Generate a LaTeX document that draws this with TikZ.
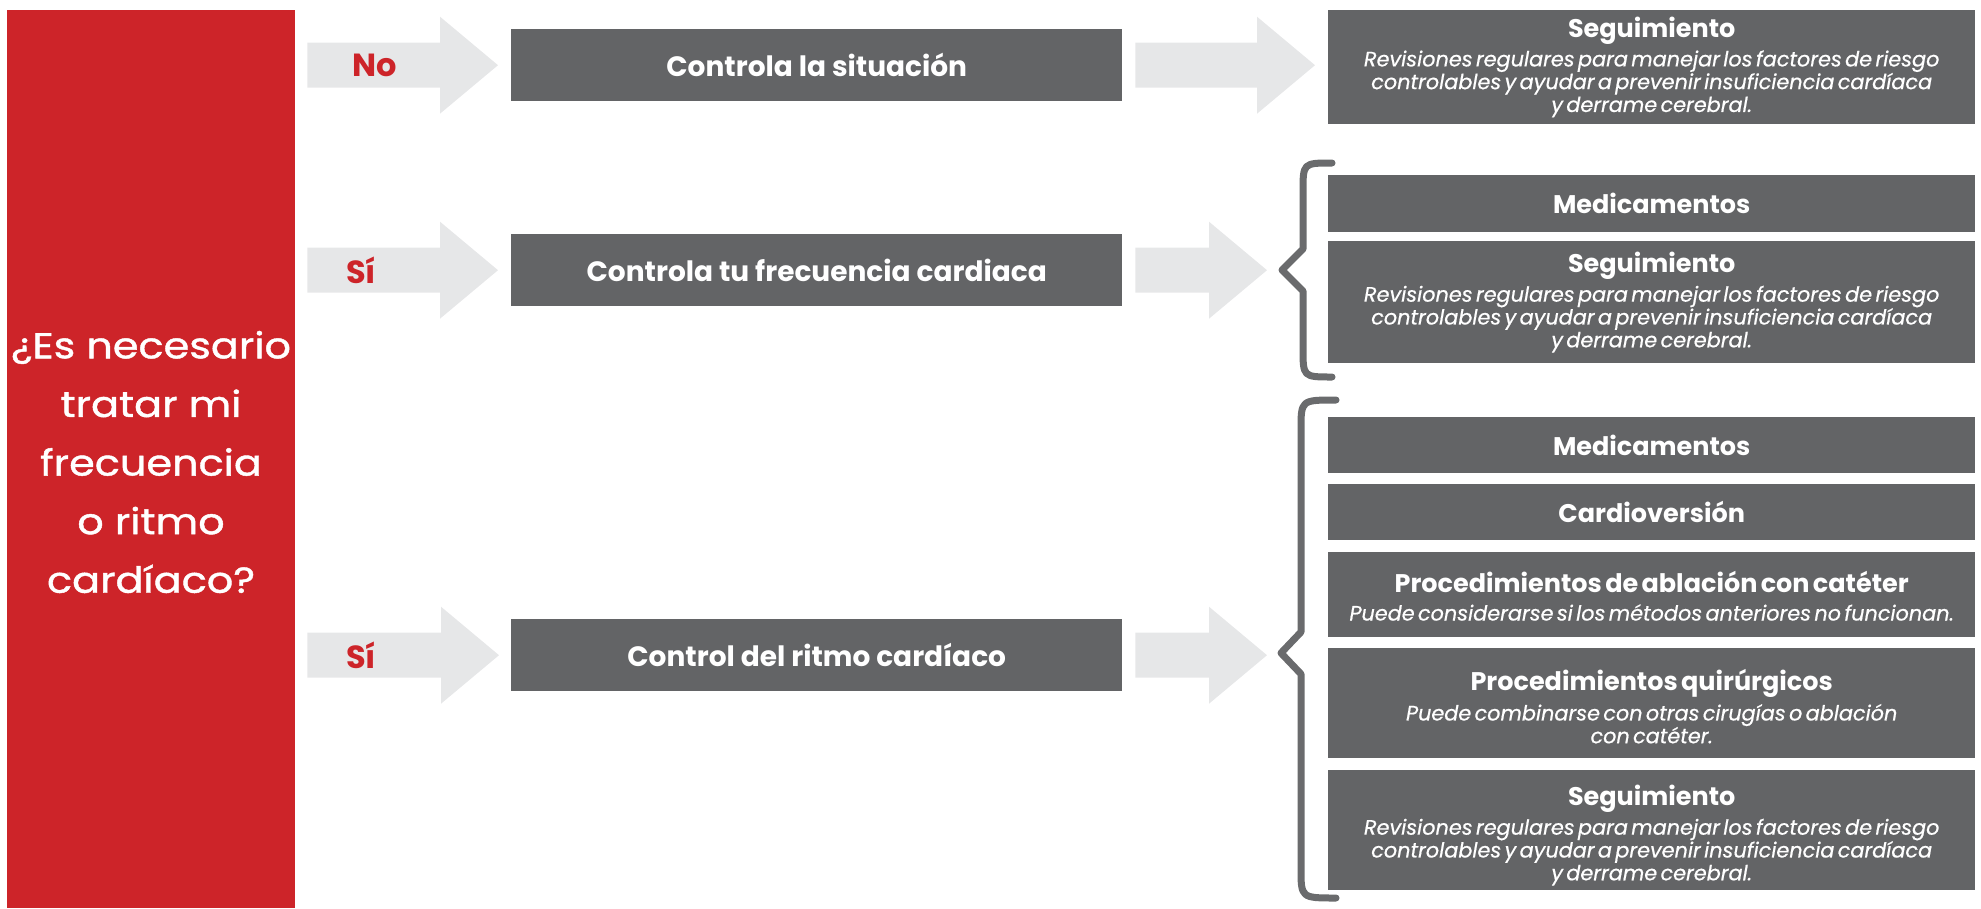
\documentclass[tikz,border=0pt]{standalone}
\usepackage{fontspec}
\setmainfont{Poppins}
\newfontfamily\qfont[FakeStretch=1.15,FakeBold=1.2]{Poppins}
\newfontfamily\subfont[FakeBold=0.6]{Poppins}
\usetikzlibrary{calc}
\definecolor{redq}{HTML}{CD2429}
\definecolor{boxgray}{HTML}{636466}
\definecolor{bracegray}{HTML}{6A6B6D}
\definecolor{arrowgray}{HTML}{E6E7E8}
\newcommand{\rtitle}{\bfseries\fontsize{25.5}{25.5}\selectfont}
\newcommand{\rsub}{\subfont\itshape\fontsize{20.8}{22.8}\selectfont}
\newcommand{\tpad}[1]{\rule{0pt}{#1}}
\newcommand{\segtext}[1][0pt]{{\rtitle\tpad{#1}Seguimiento\par}\vskip 5pt{\rsub Revisiones regulares para manejar los factores de riesgo\\controlables y ayudar a prevenir insuficiencia cardíaca\\y derrame cerebral.\par}}
\tikzset{
  qbox/.style={fill=redq, text=white, inner sep=0pt, align=center, anchor=north west},
  lbox/.style={fill=boxgray, text=white, inner sep=0pt, anchor=north west,
    minimum width=611pt, minimum height=72pt, font=\bfseries\fontsize{28}{34}\selectfont},
  rbox/.style={fill=boxgray, text=white, inner sep=0pt, anchor=north west,
    minimum width=647pt, text width=647pt, align=center},
  ans/.style={text=redq, inner sep=0pt, anchor=west, font=\bfseries\fontsize{32}{36}\selectfont},
  blockarrow/.style={fill=arrowgray, draw=none,
    to path={let \p1=(\tikztostart), \p2=(\tikztotarget) in
      (\x1,\y1+22.5pt) -- (\x2-58pt,\y1+22.5pt) -- (\x2-58pt,\y1+48.5pt) -- (\x2,\y1)
      -- (\x2-58pt,\y1-48.5pt) -- (\x2-58pt,\y1-22.5pt) -- (\x1,\y1-22.5pt) -- cycle}},
  brace/.style={draw=bracegray, line width=7pt, line cap=round, line join=round}
}
\begin{document}
\begin{tikzpicture}[x=1pt,y=-1pt]
\useasboundingbox (0,0) rectangle (1981,908);
% question box
\node[qbox, minimum width=288pt, minimum height=898pt] (q) at (7,10) {};
\node[text=white, align=center, font=\qfont\fontsize{36}{58.6}\selectfont] (qt) at (151,462)
  {¿Es necesario\\tratar mi\\frecuencia\\o ritmo\\cardíaco?};
% middle boxes
\node[lbox] (b1) at (511,29) {Controla la situación};
\node[lbox] (b2) at (511,234) {Controla tu frecuencia cardiaca};
\node[lbox] (b3) at (511,619) {Control del ritmo cardíaco};
% right boxes
\node[rbox, minimum height=114pt] (r1) at (1328,10) {\segtext};
\node[rbox, minimum height=57pt] (r2) at (1328,175) {\rtitle Medicamentos};
\node[rbox, minimum height=122pt] (r3) at (1328,241) {\segtext[21pt]};
\node[rbox, minimum height=56pt] (r4) at (1328,417) {\rtitle Medicamentos};
\node[rbox, minimum height=56pt] (r5) at (1328,484) {\rtitle Cardioversión};
\node[rbox, minimum height=85pt] (r6) at (1328,552)
  {{\rtitle\tpad{24pt}Procedimientos de ablación con catéter\par}\vskip 5pt{\rsub Puede considerarse si los métodos anteriores no funcionan.\par}};
\node[rbox, minimum height=110pt] (r7) at (1328,648)
  {{\rtitle\tpad{28pt}Procedimientos quirúrgicos\par}\vskip 5pt{\rsub Puede combinarse con otras cirugías o ablación\\con catéter.\par}};
\node[rbox, minimum height=120pt] (r8) at (1328,770) {\segtext[31pt]};
% braces
\coordinate (k2) at (1282,270);
\coordinate (k3) at (1281,653);
\draw[brace] (1332,163) .. controls (1303,163) .. (1303,192) -- (1303,249) -- (k2)
  -- (1303,291) -- (1303,348) .. controls (1303,377) .. (1332,377);
\draw[brace] (1336,400) .. controls (1301,400) .. (1301,430) -- (1301,632) -- (k3)
  -- (1301,674) -- (1301,868) .. controls (1301,898) .. (1336,898);
% arrows
\path[blockarrow] ([xshift=12pt]q.east |- b1.west) to ([xshift=-13pt]b1.west);
\path[blockarrow] ([xshift=12pt]q.east |- b2.west) to ([xshift=-13pt]b2.west);
\path[blockarrow] ([xshift=12pt]q.east |- b3.west) to ([xshift=-12pt]b3.west);
\path[blockarrow] ([xshift=13pt]b1.east) to ([xshift=-13pt]r1.west |- b1.east);
\path[blockarrow] ([xshift=13pt]b2.east) to ([xshift=-15pt]k2 |- b2.east);
\path[blockarrow] ([xshift=13pt]b3.east) to ([xshift=-14pt]k3 |- b3.east);
% answers
\node[ans] (a1) at (352,65) {No};
\node[ans] (a2) at (346,270) {Sí};
\node[ans] (a3) at (346,655) {Sí};
\end{tikzpicture}
\end{document}
